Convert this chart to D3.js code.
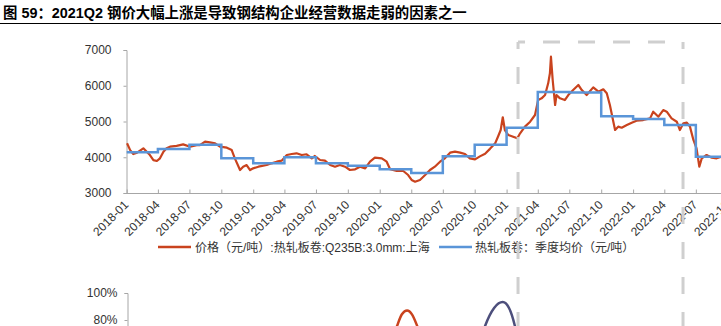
<!DOCTYPE html>
<html><head><meta charset="utf-8">
<script src="https://cdn.jsdelivr.net/npm/d3@7"></script>
<style>
body{margin:0;background:#fff;}
svg{display:block;font-family:"Liberation Sans",Arial,"Noto Sans CJK SC",sans-serif;}
</style></head><body>
<svg id="c" width="721" height="326"></svg>
<script>
const titleText = "图 59：2021Q2 钢价大幅上涨是导致钢结构企业经营数据走弱的因素之一";
const seriesNames = ["价格（元/吨）:热轧板卷:Q235B:3.0mm:上海", "热轧板卷：季度均价（元/吨）"];
const yTicks = [3000, 4000, 5000, 6000, 7000];
const xTickLabels = ["2018-01","2018-04","2018-07","2018-10","2019-01","2019-04","2019-07","2019-10",
  "2020-01","2020-04","2020-07","2020-10","2021-01","2021-04","2021-07","2021-10","2022-01","2022-04","2022-07","2022-10"];

const priceDates = ["2018-01-02","2018-01-11","2018-01-20","2018-01-31","2018-02-18","2018-03-09","2018-03-19","2018-03-29",
  "2018-04-07","2018-04-17","2018-04-26","2018-05-06","2018-05-25","2018-06-13","2018-07-03","2018-07-22","2018-07-31",
  "2018-08-15","2018-08-29","2018-09-13","2018-09-27","2018-10-17","2018-10-31","2018-11-09","2018-11-24","2018-12-03",
  "2018-12-13","2018-12-23","2019-01-01","2019-01-16","2019-02-09","2019-02-23","2019-03-10","2019-03-24","2019-04-08",
  "2019-04-22","2019-05-06","2019-05-21","2019-06-04","2019-06-19","2019-06-28","2019-07-13","2019-07-27","2019-08-11",
  "2019-08-25","2019-09-08","2019-09-23","2019-10-07","2019-10-22","2019-11-05","2019-11-20","2019-12-04","2019-12-18",
  "2020-01-07","2020-01-21","2020-01-31","2020-02-19","2020-03-09","2020-03-23","2020-04-02","2020-04-12","2020-04-26",
  "2020-05-11","2020-05-25","2020-06-08","2020-06-23","2020-07-07","2020-07-22","2020-08-05","2020-08-20","2020-09-03",
  "2020-09-17","2020-10-02","2020-10-16","2020-10-31","2020-11-14","2020-11-29","2020-12-08","2020-12-15","2020-12-21",
  "2020-12-27","2021-01-06","2021-01-20","2021-02-01","2021-02-09","2021-02-23","2021-03-10","2021-03-24","2021-04-02",
  "2021-04-12","2021-04-22","2021-05-01","2021-05-06","2021-05-09","2021-05-14","2021-05-21","2021-05-25","2021-06-04",
  "2021-06-18","2021-06-28","2021-07-12","2021-07-27","2021-08-06","2021-08-20","2021-09-08","2021-09-23","2021-10-07",
  "2021-10-17","2021-10-26","2021-11-05","2021-11-10","2021-11-19","2021-11-29","2021-12-14","2021-12-28","2022-01-11",
  "2022-01-30","2022-02-19","2022-02-28","2022-03-15","2022-03-29","2022-04-08","2022-04-22","2022-05-07","2022-05-16",
  "2022-05-26","2022-06-05","2022-06-14","2022-06-24","2022-07-03","2022-07-11","2022-07-18","2022-08-01","2022-08-16",
  "2022-08-30","2022-09-12"];
const priceValues = [4390,4200,4090,4130,4250,4060,3920,3895,
  3970,4155,4250,4295,4320,4360,4295,4340,4340,
  4435,4418,4390,4295,4267,4200,3970,3643,3736,
  3783,3643,3690,3736,3783,3830,3876,3904,4063,
  4090,4110,4063,4083,3970,4035,3923,3904,3783,
  3736,3783,3736,3643,3663,3736,3690,3876,3988,
  3970,3876,3663,3615,3615,3503,3364,3316,3364,
  3503,3643,3736,3876,3970,4128,4156,4128,4090,
  3970,3941,4025,4100,4235,4390,4594,4762,5118,
  4762,4622,4575,4529,4669,4856,4994,5182,5601,
  5648,5741,6068,6348,6812,6161,5461,5741,5648,
  5601,5741,5881,6021,5881,5741,5955,5834,5900,
  5788,5461,4994,4762,4856,4827,4902,4967,5022,
  5041,5088,5275,5135,5321,5275,5088,4994,4762,
  4949,4967,4856,4483,4250,3736,3970,4063,3988,
  3970,4016];

const quarterStarts = ["2018-01-01","2018-04-01","2018-07-01","2018-10-01","2019-01-01","2019-04-01","2019-07-01","2019-10-01",
  "2020-01-01","2020-04-01","2020-07-01","2020-10-01","2021-01-01","2021-04-01","2021-07-01","2021-10-01","2022-01-01",
  "2022-04-01","2022-07-01","2022-10-01"];
const quarterAvg = [4138,4230,4350,3970,3830,3998,3830,3764,3663,3559,4026,4351,4827,5825,5810,5145,5070,4902,4016,4016];

const lowerYTicks = [0.8, 1.0];
const lowerRedDates = ["2020-01-25","2020-02-20","2020-03-05","2020-03-20","2020-04-03","2020-04-18","2020-05-14"];
const lowerRedValues = [0.55,0.756,0.842,0.87,0.842,0.756,0.55];
const lowerNavyDates = ["2020-10-02","2020-10-31","2020-11-26","2020-12-21","2021-01-08","2021-01-25","2021-02-14"];
const lowerNavyValues = [0.505,0.756,0.889,0.933,0.889,0.756,0.489];

const parse = d3.utcParse("%Y-%m-%d");
const svg = d3.select("#c");
const W = 721, H = 326;

// title
svg.append("text").attr("x", 3).attr("y", 18)
  .attr("font-size", 14.4).attr("font-weight", "bold").attr("fill", "#000")
  .style("font-family", '"Liberation Sans","Noto Sans CJK SC",sans-serif')
  .text(titleText);
svg.append("line").attr("x1", 0).attr("x2", W).attr("y1", 23.5).attr("y2", 23.5)
  .attr("stroke", "#000").attr("stroke-width", 1);

const x = d3.scaleUtc().domain([parse("2018-01-01"), parse("2022-04-01")]).range([126.7, 664.3]);
const y = d3.scaleLinear().domain([3000, 7000]).range([193, 50]);

const axisColor = "#a6a6a6";
const textColor = "#333";

// y axis
const gy = svg.append("g").attr("transform", "translate(126.5,0)")
  .call(d3.axisLeft(y).tickValues(yTicks).tickSize(3).tickPadding(12).tickFormat(d3.format("d")));
gy.select(".domain").attr("stroke", axisColor);
gy.selectAll(".tick line").attr("stroke", axisColor);
gy.selectAll(".tick text").attr("font-size", 12).attr("fill", textColor).style("font-family", '"Liberation Sans",Arial,sans-serif');

// x axis
const gx = svg.append("g").attr("transform", "translate(0,193.5)")
  .call(d3.axisBottom(x).tickValues(xTickLabels.map(s => parse(s + "-01"))).tickSize(-4).tickSizeOuter(0)
    .tickFormat((d, i) => xTickLabels[i]));
gx.select(".domain").attr("stroke", axisColor).attr("d", `M126.5,0H${W}`);
gx.selectAll(".tick line").attr("stroke", axisColor);
gx.selectAll(".tick text").attr("font-size", 12).attr("fill", textColor)
  .style("font-family", '"Liberation Sans",Arial,sans-serif')
  .attr("text-anchor", "end").attr("y", 0).attr("dy", 0)
  .attr("transform", "translate(2,12) rotate(-45)");

// price line
const priceData = priceDates.map((d, i) => ({ date: parse(d), v: priceValues[i] }));
svg.append("path").datum(priceData)
  .attr("fill", "none").attr("stroke", "#c9431e").attr("stroke-width", 2.2).attr("stroke-linejoin", "round")
  .attr("d", d3.line().x(d => x(d.date)).y(d => y(d.v)));

// quarterly average step line
const qData = quarterStarts.map((d, i) => ({ date: parse(d), v: quarterAvg[i] }));
svg.append("path").datum(qData)
  .attr("fill", "none").attr("stroke", "#5a95d8").attr("stroke-width", 2.5)
  .attr("d", d3.line().curve(d3.curveStepAfter).x(d => x(d.date)).y(d => y(d.v)));

// legend
const lg = svg.append("g").attr("font-size", 12).attr("fill", textColor);
lg.append("line").attr("x1", 158).attr("x2", 191).attr("y1", 247).attr("y2", 247).attr("stroke", "#c9431e").attr("stroke-width", 2.5);
lg.append("text").attr("x", 195).attr("y", 251.5).attr("fill", textColor).text(seriesNames[0]);
lg.append("line").attr("x1", 439).attr("x2", 472).attr("y1", 247).attr("y2", 247).attr("stroke", "#5a95d8").attr("stroke-width", 2.5);
lg.append("text").attr("x", 475).attr("y", 251.5).attr("fill", textColor).text(seriesNames[1]);

// lower chart (partially visible)
const y2 = d3.scaleLinear().domain([0.8, 1.0]).range([320, 293]);
const gy2 = svg.append("g").attr("transform", "translate(127.5,0)")
  .call(d3.axisLeft(y2).tickValues(lowerYTicks).tickSize(3).tickPadding(7).tickFormat(d3.format(".0%")));
gy2.select(".domain").attr("stroke", axisColor).attr("d", `M-3,293.5H0.5V${H + 5}`);
gy2.selectAll(".tick line").attr("stroke", axisColor);
gy2.selectAll(".tick text").attr("font-size", 12).attr("fill", textColor).style("font-family", '"Liberation Sans",Arial,sans-serif');

const lowLine = d3.line().curve(d3.curveMonotoneX).x(d => x(d.date)).y(d => y2(d.v));
svg.append("path").datum(lowerRedDates.map((d, i) => ({ date: parse(d), v: lowerRedValues[i] })))
  .attr("fill", "none").attr("stroke", "#c9431e").attr("stroke-width", 2.5).attr("d", lowLine);
svg.append("path").datum(lowerNavyDates.map((d, i) => ({ date: parse(d), v: lowerNavyValues[i] })))
  .attr("fill", "none").attr("stroke", "#4d4f7c").attr("stroke-width", 2.5).attr("d", lowLine);

// highlight dashed box
const bx0 = x(parse("2021-02-03")), bx1 = x(parse("2022-05-25"));
const dashStyle = s => s.attr("fill", "none").attr("stroke", "#cfcfcf").attr("stroke-width", 3)
  .attr("stroke-dasharray", "17,18").attr("stroke-dashoffset", 10);
svg.append("path").attr("d", `M${bx0},42V${H + 10}`).call(dashStyle);
svg.append("path").attr("d", `M${bx0},42H${bx1}`).call(dashStyle);
svg.append("path").attr("d", `M${bx1},42V${H + 10}`).call(dashStyle);
</script>
</body></html>
